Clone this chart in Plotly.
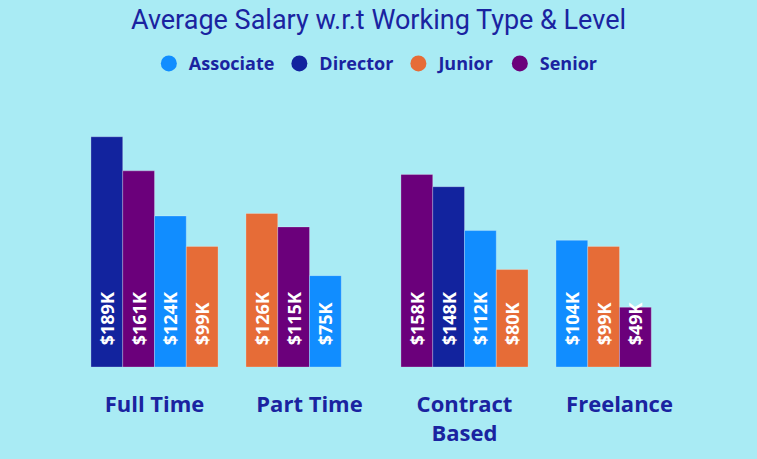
import plotly.graph_objects as go

categories = ["Full Time", "Part Time", "Contract Based", "Freelance"]
tick_labels = ["Full Time", "Part Time", "Contract<br>Based", "Freelance"]
levels = ["Associate", "Director", "Junior", "Senior"]
associate = [124, 75, 112, 104]
director = [189, None, 148, None]
junior = [99, 126, 80, 99]
senior = [161, 115, 158, 49]

colors = {"Associate": "#118DFF", "Director": "#12239E", "Junior": "#E66C37", "Senior": "#6B007B"}
series = {"Associate": associate, "Director": director, "Junior": junior, "Senior": senior}

TXT = "#1A23A0"
BG = "#A9EBF4"

# rank levels within each category (descending), like the sorted visual
ranked = []
for i, c in enumerate(categories):
    items = [(series[l][i], l) for l in levels if series[l][i] is not None]
    items.sort(key=lambda t: -t[0])
    ranked.append(items)

fig = go.Figure()
nrank = max(len(r) for r in ranked)
for k in range(nrank):
    ys, cols, txt = [], [], []
    for r in ranked:
        if k < len(r):
            v, l = r[k]
            ys.append(v)
            cols.append(colors[l])
            txt.append("\u00a0\u00a0\u00a0\u00a0$%dK" % v)
        else:
            ys.append(None)
            cols.append("rgba(0,0,0,0)")
            txt.append("")
    fig.add_trace(go.Bar(
        x=categories, y=ys, marker=dict(color=cols, line=dict(color="rgba(255,255,255,0.25)", width=1)),
        text=txt, textposition="inside", insidetextanchor="start", textangle=-90,
        textfont=dict(family="Open Sans", size=18, color="white", weight="bold"),
        showlegend=False, hoverinfo="skip", cliponaxis=False,
    ))

for l in levels:
    fig.add_trace(go.Scatter(
        x=[None], y=[None], mode="markers", name=l,
        marker=dict(color=colors[l], size=16, symbol="circle"),
    ))

fig.update_layout(
    width=757, height=459,
    margin=dict(l=77, r=60, t=123, b=92),
    paper_bgcolor=BG, plot_bgcolor=BG,
    barmode="group", bargap=0.18, bargroupgap=0,
    uniformtext=dict(minsize=18, mode="show"),
    title=dict(text="Average Salary w.r.t Working Type & Level", x=0.5, xanchor="center",
               y=0.957, yanchor="middle",
               font=dict(family="Roboto", size=27, color=TXT)),
    legend=dict(orientation="h", x=0.482, xanchor="center", y=1.243, yanchor="middle",
                yref="paper", bgcolor="rgba(0,0,0,0)",
                font=dict(family="Open Sans", size=18, color=TXT, weight="bold"),
                itemwidth=30, tracegroupgap=0),
    xaxis=dict(tickmode="array", tickvals=categories, ticktext=tick_labels,
               ticks="outside", ticklen=18, tickcolor="rgba(0,0,0,0)",
               tickfont=dict(family="Open Sans", size=22, color=TXT, weight="bold"),
               showgrid=False, zeroline=False, showline=False),
    yaxis=dict(range=[0, 200.3], visible=False, showgrid=False, zeroline=False),
)

fig.write_html("out.html")
